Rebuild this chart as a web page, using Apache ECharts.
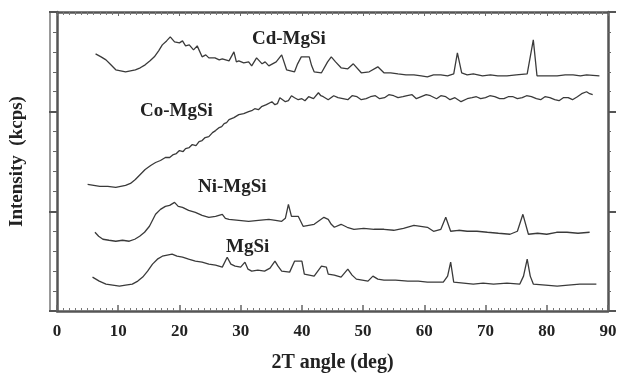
<!DOCTYPE html>
<html>
<head>
<meta charset="utf-8">
<script src="https://cdn.jsdelivr.net/npm/echarts@6/dist/echarts.min.js"></script>
<style>
  html, body { margin: 0; padding: 0; background: #fff; }
  #chart { width: 620px; height: 378px; }
</style>
</head>
<body>
<div id="chart"></div>
<script>
// XRD patterns, [2theta, intensity (arbitrary, stacked offsets)]
const cdMgSi = [
  [6.3, 258], [7.2, 255], [8.0, 252], [8.8, 247], [9.6, 242], [10.4, 241], [11.2, 240], [12.0, 241],
  [12.8, 242], [13.6, 244], [14.4, 247], [15.2, 251], [15.9, 255], [16.6, 261], [17.2, 267],
  [17.9, 271], [18.5, 275], [19.2, 270], [20.0, 269], [20.5, 271], [21.0, 266], [21.6, 267],
  [22.3, 262], [22.9, 266], [23.7, 255], [24.3, 257], [24.8, 254], [25.8, 254], [26.5, 252],
  [27.0, 253], [28.1, 251], [28.9, 260], [29.3, 250], [29.7, 251], [30.5, 249], [31.3, 250],
  [31.8, 246], [32.6, 254], [33.5, 248], [34.0, 250], [34.6, 246], [35.8, 250], [36.7, 257],
  [37.5, 242], [38.8, 240], [39.3, 248], [39.9, 255], [41.2, 255], [41.6, 246], [42.0, 240],
  [43.2, 239], [44.2, 250], [44.8, 255], [45.5, 250], [46.4, 244], [47.5, 243], [48.4, 248],
  [49.7, 239], [51.0, 240], [52.4, 245], [53.4, 239], [54.5, 239], [55.7, 238], [57.0, 237],
  [58.3, 237], [59.5, 236], [60.5, 235], [61.5, 237], [62.7, 237], [63.8, 236], [64.8, 238],
  [65.4, 259], [66.1, 239], [67.0, 237], [68.0, 238], [69.5, 236], [70.8, 237], [72.0, 236],
  [73.5, 236], [75.0, 237], [76.8, 238], [77.8, 272], [78.4, 236], [80.0, 236], [81.7, 236],
  [83.0, 237], [84.3, 237], [85.5, 236], [86.5, 237], [88.6, 236]
];
const coMgSi = [
  [5.0, 127], [6.0, 126], [7.0, 125], [8.3, 125], [9.6, 124], [10.4, 125], [11.2, 126],
  [12.0, 128], [12.8, 132], [13.6, 137], [14.4, 142], [15.3, 146], [16.1, 149], [16.9, 151],
  [17.7, 154], [18.4, 154], [19.0, 157], [19.5, 158], [20.0, 161], [20.6, 160], [21.0, 163],
  [21.6, 164], [22.1, 167], [22.7, 166], [23.2, 170], [23.7, 171], [24.2, 174], [24.8, 175],
  [25.4, 179], [25.9, 181], [26.5, 184], [26.9, 185], [27.3, 188], [27.7, 189], [28.1, 192],
  [28.9, 194], [29.7, 197], [30.5, 198], [31.3, 200], [31.8, 201], [32.3, 203], [32.9, 202],
  [33.4, 205], [34.2, 207], [35.1, 210], [35.6, 207], [36.0, 208], [36.4, 214], [36.7, 212],
  [37.3, 210], [37.8, 211], [38.3, 216], [38.8, 214], [39.4, 212], [40.0, 213], [40.5, 211],
  [41.1, 215], [41.9, 213], [42.7, 219], [43.1, 216], [43.5, 215], [44.3, 212], [45.2, 216],
  [45.9, 214], [46.7, 213], [47.5, 212], [48.2, 216], [49.0, 215], [49.7, 212], [50.5, 213],
  [51.2, 215], [52.0, 216], [52.7, 213], [53.5, 214], [54.2, 217], [55.0, 216], [55.7, 214],
  [56.5, 215], [57.2, 216], [58.0, 217], [58.7, 213], [59.5, 215], [60.3, 217], [61.0, 216],
  [62.0, 213], [62.7, 216], [63.5, 215], [64.2, 212], [65.0, 214], [66.0, 210], [67.0, 213],
  [67.8, 214], [68.5, 215], [69.2, 213], [70.0, 214], [70.7, 216], [71.5, 215], [72.3, 213],
  [73.0, 213], [73.7, 215], [74.5, 215], [75.2, 213], [76.0, 214], [76.7, 216], [77.5, 215],
  [78.3, 213], [79.0, 212], [79.7, 215], [80.5, 214], [81.3, 212], [82.0, 211], [82.7, 214],
  [83.5, 214], [84.2, 212], [85.0, 215], [85.7, 218], [86.5, 220], [87.0, 218], [87.5, 217]
];
const niMgSi = [
  [6.2, 79], [6.8, 75], [7.5, 72], [8.5, 71], [9.6, 70], [10.7, 71], [11.8, 70], [12.7, 72],
  [13.5, 75], [14.3, 79], [15.1, 85], [15.6, 91], [16.1, 97], [16.9, 102], [17.7, 105],
  [18.4, 106], [19.2, 109], [19.8, 105], [20.5, 104], [21.5, 101], [22.6, 99], [23.7, 96],
  [24.8, 94], [25.9, 95], [27.0, 97], [27.5, 93], [28.1, 92], [29.7, 91], [31.3, 90],
  [32.9, 91], [34.6, 92], [35.7, 91], [36.7, 90], [37.3, 93], [37.8, 107], [38.3, 95],
  [39.4, 95], [40.2, 85], [41.1, 86], [42.0, 87], [43.6, 94], [44.3, 92], [44.8, 87],
  [45.3, 84], [46.4, 87], [47.4, 84], [48.5, 82], [50.1, 83], [51.8, 82], [53.4, 82],
  [55.0, 81], [56.6, 83], [58.3, 86], [59.4, 85], [60.5, 84], [61.5, 80], [62.7, 82],
  [63.5, 94], [64.3, 80], [65.6, 81], [67.0, 80], [68.6, 80], [70.3, 79], [72.1, 78],
  [74.0, 77], [75.2, 80], [76.1, 97], [77.0, 77], [78.5, 78], [80.0, 77], [81.6, 79],
  [83.3, 79], [85.1, 78], [87.0, 79]
];
const mgSi = [
  [5.8, 34], [6.9, 30], [8.0, 27], [9.1, 26], [10.2, 25], [11.2, 26], [12.3, 27], [13.2, 30],
  [14.0, 34], [14.8, 40], [15.6, 47], [16.4, 52], [17.2, 55], [18.0, 56], [18.8, 57],
  [19.6, 55], [20.5, 54], [21.5, 52], [22.6, 50], [23.7, 49], [24.8, 47], [25.9, 46],
  [27.0, 44], [27.8, 54], [28.4, 47], [29.1, 45], [30.0, 44], [30.7, 49], [31.2, 42],
  [31.8, 40], [32.8, 41], [33.9, 40], [34.8, 43], [35.6, 50], [36.1, 45], [36.7, 40],
  [38.0, 39], [38.8, 50], [40.0, 50], [40.4, 37], [42.0, 35], [42.6, 40], [43.2, 45],
  [44.0, 44], [44.3, 37], [45.3, 36], [46.4, 34], [47.5, 42], [48.2, 36], [48.9, 32],
  [50.8, 30], [51.6, 35], [52.4, 32], [53.4, 31], [55.3, 31], [57.3, 30], [59.0, 30],
  [60.5, 29], [62.0, 29], [63.1, 29], [63.8, 35], [64.3, 49], [64.8, 29], [66.4, 28],
  [68.0, 27], [69.6, 28], [71.3, 27], [73.5, 28], [75.6, 27], [76.2, 35], [76.8, 52],
  [77.3, 35], [77.8, 27], [79.8, 26], [81.7, 25], [83.5, 26], [85.4, 27], [88.1, 27]
];
const seriesNames = ['Cd-MgSi', 'Co-MgSi', 'Ni-MgSi', 'MgSi'];
const seriesData = [cdMgSi, coMgSi, niMgSi, mgSi];
const xTicks = [0, 10, 20, 30, 40, 50, 60, 70, 80, 90];

const chart = echarts.init(document.getElementById('chart'));
const serif = '"Liberation Serif", "DejaVu Serif", serif';
const frameLine = { show: true, onZero: false, lineStyle: { color: '#555', width: 2.5 } };

const option = {
  backgroundColor: '#fff',
  animation: false,
  grid: { left: 54, right: 12, top: 12, bottom: 66 },
  xAxis: [
    {
      type: 'value', min: 0, max: 90, interval: 10, position: 'bottom',
      axisLine: frameLine,
      axisTick: { inside: true, length: 6, lineStyle: { color: '#666', width: 1.5 } },
      minorTick: { show: true, splitNumber: 10, length: 3, lineStyle: { color: '#777' } },
      splitLine: { show: false },
      axisLabel: {
        margin: 12, color: '#222', fontFamily: serif, fontWeight: 'bold', fontSize: 17,
        formatter: v => (xTicks.includes(v) ? String(v) : '')
      },
      name: '2T angle (deg)', nameLocation: 'middle', nameGap: 42,
      nameTextStyle: { color: '#222', fontFamily: serif, fontWeight: 'bold', fontSize: 20 }
    },
    {
      type: 'value', min: 0, max: 90, interval: 10, position: 'top',
      axisLine: frameLine,
      axisTick: { inside: true, length: 4, lineStyle: { color: '#666' } },
      minorTick: { show: true, splitNumber: 10, length: 3, lineStyle: { color: '#777' } },
      axisLabel: { show: false }, splitLine: { show: false }
    }
  ],
  yAxis: [
    {
      type: 'value', min: 0, max: 300, interval: 100, position: 'left',
      axisLine: frameLine,
      axisTick: { show: true, inside: false, length: 8, lineStyle: { color: '#555', width: 2 } },
      minorTick: { show: true, splitNumber: 5, length: 4, lineStyle: { color: '#666' } },
      axisLabel: { show: false }, splitLine: { show: false },
      name: 'Intensity  (kcps)', nameLocation: 'middle', nameGap: 30,
      nameTextStyle: { color: '#222', fontFamily: serif, fontWeight: 'bold', fontSize: 19 }
    },
    {
      type: 'value', min: 0, max: 300, interval: 100, position: 'right',
      axisLine: frameLine,
      axisTick: { show: true, inside: false, length: 8, lineStyle: { color: '#555', width: 2 } },
      minorTick: { show: true, splitNumber: 5, length: 3, lineStyle: { color: '#666' } },
      axisLabel: { show: false }, splitLine: { show: false }
    }
  ],
  series: seriesData.map((d, i) => ({
    name: seriesNames[i],
    type: 'line',
    data: d,
    showSymbol: false,
    lineStyle: { color: '#3a3a3a', width: 1.3 }
  })),
  graphic: [
    { type: 'line', shape: { x1: 50, y1: 12, x2: 50, y2: 312 }, style: { stroke: '#777', lineWidth: 1.5 } },
    { type: 'text', left: 252, top: 30, style: { text: 'Cd-MgSi', font: 'bold 19px ' + serif, fill: '#222' } },
    { type: 'text', left: 140, top: 102, style: { text: 'Co-MgSi', font: 'bold 19px ' + serif, fill: '#222' } },
    { type: 'text', left: 198, top: 178, style: { text: 'Ni-MgSi', font: 'bold 19px ' + serif, fill: '#222' } },
    { type: 'text', left: 226, top: 238, style: { text: 'MgSi', font: 'bold 19px ' + serif, fill: '#222' } }
  ]
};
chart.setOption(option);
</script>
</body>
</html>
